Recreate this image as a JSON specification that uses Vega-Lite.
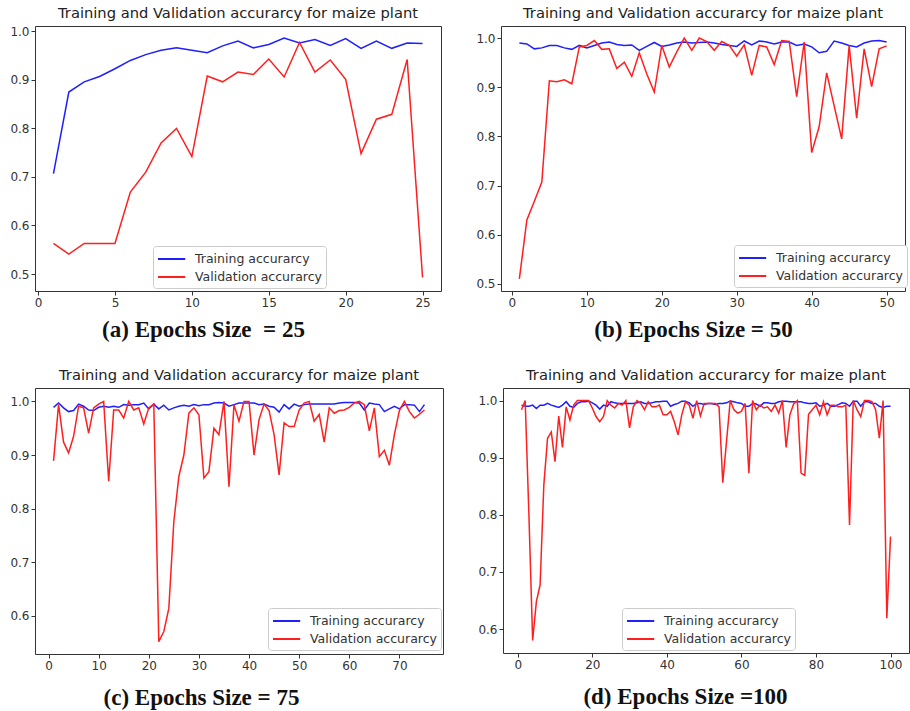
{
"$schema":"https://vega.github.io/schema/vega-lite/v6.json",
"padding":{"left":9,"top":5,"right":2,"bottom":0},
"background":"white",
"datasets":{
"a":[{"e":1,"t":0.707,"v":0.563},{"e":2,"t":0.875,"v":0.541},{"e":3,"t":0.896,"v":0.563},{"e":4,"t":0.907,"v":0.563},{"e":5,"t":0.923,"v":0.563},{"e":6,"t":0.94,"v":0.669},{"e":7,"t":0.952,"v":0.71},{"e":8,"t":0.961,"v":0.77},{"e":9,"t":0.966,"v":0.8},{"e":10,"t":0.961,"v":0.742},{"e":11,"t":0.956,"v":0.908},{"e":12,"t":0.97,"v":0.896},{"e":13,"t":0.98,"v":0.916},{"e":14,"t":0.966,"v":0.911},{"e":15,"t":0.973,"v":0.943},{"e":16,"t":0.986,"v":0.906},{"e":17,"t":0.976,"v":0.977},{"e":18,"t":0.983,"v":0.916},{"e":19,"t":0.971,"v":0.941},{"e":20,"t":0.985,"v":0.901},{"e":21,"t":0.965,"v":0.748},{"e":22,"t":0.98,"v":0.819},{"e":23,"t":0.965,"v":0.829},{"e":24,"t":0.976,"v":0.942},{"e":25,"t":0.975,"v":0.493}],
"b":[{"e":1,"t":0.99,"v":0.51},{"e":2,"t":0.988,"v":0.63},{"e":3,"t":0.978,"v":0.668},{"e":4,"t":0.98,"v":0.707},{"e":5,"t":0.985,"v":0.913},{"e":6,"t":0.985,"v":0.911},{"e":7,"t":0.98,"v":0.915},{"e":8,"t":0.977,"v":0.907},{"e":9,"t":0.985,"v":0.982},{"e":10,"t":0.98,"v":0.985},{"e":11,"t":0.985,"v":0.995},{"e":12,"t":0.99,"v":0.977},{"e":13,"t":0.992,"v":0.978},{"e":14,"t":0.987,"v":0.938},{"e":15,"t":0.985,"v":0.951},{"e":16,"t":0.986,"v":0.922},{"e":17,"t":0.975,"v":0.97},{"e":18,"t":0.983,"v":0.927},{"e":19,"t":0.991,"v":0.89},{"e":20,"t":0.983,"v":0.985},{"e":21,"t":0.986,"v":0.941},{"e":22,"t":0.99,"v":0.972},{"e":23,"t":0.992,"v":1.0},{"e":24,"t":0.99,"v":0.975},{"e":25,"t":0.991,"v":1.0},{"e":26,"t":0.992,"v":0.993},{"e":27,"t":0.99,"v":0.975},{"e":28,"t":0.987,"v":0.993},{"e":29,"t":0.985,"v":0.985},{"e":30,"t":0.983,"v":0.963},{"e":31,"t":0.994,"v":0.986},{"e":32,"t":0.986,"v":0.924},{"e":33,"t":0.994,"v":0.985},{"e":34,"t":0.992,"v":0.982},{"e":35,"t":0.988,"v":0.946},{"e":36,"t":0.992,"v":0.995},{"e":37,"t":0.992,"v":0.993},{"e":38,"t":0.985,"v":0.881},{"e":39,"t":0.988,"v":0.992},{"e":40,"t":0.982,"v":0.767},{"e":41,"t":0.97,"v":0.82},{"e":42,"t":0.973,"v":0.929},{"e":43,"t":0.994,"v":0.862},{"e":44,"t":0.99,"v":0.795},{"e":45,"t":0.985,"v":0.985},{"e":46,"t":0.982,"v":0.837},{"e":47,"t":0.99,"v":0.978},{"e":48,"t":0.994,"v":0.901},{"e":49,"t":0.995,"v":0.978},{"e":50,"t":0.992,"v":0.984}],
"c":[{"e":1,"t":0.989,"v":0.889},{"e":2,"t":0.997,"v":0.994},{"e":3,"t":0.988,"v":0.924},{"e":4,"t":0.981,"v":0.904},{"e":5,"t":0.983,"v":0.935},{"e":6,"t":0.995,"v":0.991},{"e":7,"t":0.991,"v":0.988},{"e":8,"t":0.984,"v":0.941},{"e":9,"t":0.983,"v":0.988},{"e":10,"t":0.989,"v":0.995},{"e":11,"t":0.991,"v":1.0},{"e":12,"t":0.989,"v":0.851},{"e":13,"t":0.991,"v":0.984},{"e":14,"t":0.989,"v":0.984},{"e":15,"t":0.994,"v":0.969},{"e":16,"t":0.993,"v":1.0},{"e":17,"t":0.994,"v":0.984},{"e":18,"t":0.994,"v":0.988},{"e":19,"t":0.997,"v":0.958},{"e":20,"t":0.986,"v":0.988},{"e":21,"t":0.995,"v":0.995},{"e":22,"t":0.986,"v":0.552},{"e":23,"t":0.993,"v":0.571},{"e":24,"t":0.984,"v":0.614},{"e":25,"t":0.988,"v":0.776},{"e":26,"t":0.991,"v":0.86},{"e":27,"t":0.993,"v":0.9},{"e":28,"t":0.991,"v":0.978},{"e":29,"t":0.994,"v":0.988},{"e":30,"t":0.992,"v":0.975},{"e":31,"t":0.994,"v":0.857},{"e":32,"t":0.994,"v":0.869},{"e":33,"t":0.997,"v":0.95},{"e":34,"t":0.998,"v":0.938},{"e":35,"t":0.997,"v":1.0},{"e":36,"t":0.991,"v":0.841},{"e":37,"t":0.994,"v":0.994},{"e":38,"t":0.997,"v":0.963},{"e":39,"t":0.997,"v":1.0},{"e":40,"t":0.997,"v":1.0},{"e":41,"t":0.997,"v":0.9},{"e":42,"t":0.994,"v":0.966},{"e":43,"t":0.995,"v":0.995},{"e":44,"t":0.991,"v":0.983},{"e":45,"t":0.989,"v":0.938},{"e":46,"t":0.98,"v":0.863},{"e":47,"t":0.994,"v":0.96},{"e":48,"t":0.986,"v":0.953},{"e":49,"t":0.995,"v":0.953},{"e":50,"t":0.991,"v":0.984},{"e":51,"t":0.994,"v":0.997},{"e":52,"t":0.995,"v":1.0},{"e":53,"t":0.995,"v":0.963},{"e":54,"t":0.995,"v":0.976},{"e":55,"t":0.995,"v":0.924},{"e":56,"t":0.995,"v":0.988},{"e":57,"t":0.995,"v":0.978},{"e":58,"t":0.997,"v":0.983},{"e":59,"t":0.998,"v":0.984},{"e":60,"t":0.998,"v":0.989},{"e":61,"t":0.998,"v":0.997},{"e":62,"t":0.997,"v":1.0},{"e":63,"t":0.984,"v":0.994},{"e":64,"t":0.997,"v":0.945},{"e":65,"t":0.995,"v":0.988},{"e":66,"t":0.994,"v":0.897},{"e":67,"t":0.981,"v":0.909},{"e":68,"t":0.986,"v":0.881},{"e":69,"t":0.991,"v":0.938},{"e":70,"t":0.986,"v":0.983},{"e":71,"t":0.994,"v":1.0},{"e":72,"t":0.994,"v":0.981},{"e":73,"t":0.993,"v":0.969},{"e":74,"t":0.981,"v":0.976},{"e":75,"t":0.994,"v":0.984}],
"d":[{"e":1,"t":0.992,"v":0.984},{"e":2,"t":0.99,"v":1.0},{"e":3,"t":0.99,"v":0.8},{"e":4,"t":0.992,"v":0.58},{"e":5,"t":0.986,"v":0.648},{"e":6,"t":0.992,"v":0.677},{"e":7,"t":0.992,"v":0.852},{"e":8,"t":0.995,"v":0.934},{"e":9,"t":0.992,"v":0.945},{"e":10,"t":0.99,"v":0.893},{"e":11,"t":0.988,"v":0.973},{"e":12,"t":0.992,"v":0.918},{"e":13,"t":0.998,"v":0.989},{"e":14,"t":0.99,"v":0.966},{"e":15,"t":0.988,"v":0.992},{"e":16,"t":0.995,"v":1.0},{"e":17,"t":0.998,"v":1.0},{"e":18,"t":0.998,"v":1.0},{"e":19,"t":0.999,"v":1.0},{"e":20,"t":0.996,"v":0.987},{"e":21,"t":0.992,"v":0.972},{"e":22,"t":0.985,"v":0.963},{"e":23,"t":0.992,"v":0.972},{"e":24,"t":0.99,"v":1.0},{"e":25,"t":0.998,"v":0.992},{"e":26,"t":0.996,"v":0.987},{"e":27,"t":0.995,"v":0.995},{"e":28,"t":0.995,"v":0.992},{"e":29,"t":0.995,"v":1.0},{"e":30,"t":0.995,"v":0.952},{"e":31,"t":0.995,"v":0.989},{"e":32,"t":0.996,"v":1.0},{"e":33,"t":0.998,"v":0.995},{"e":34,"t":0.995,"v":0.984},{"e":35,"t":0.995,"v":0.998},{"e":36,"t":0.996,"v":0.989},{"e":37,"t":0.998,"v":0.989},{"e":38,"t":0.998,"v":0.992},{"e":39,"t":0.999,"v":0.975},{"e":40,"t":0.999,"v":0.975},{"e":41,"t":0.99,"v":0.981},{"e":42,"t":0.993,"v":0.963},{"e":43,"t":0.995,"v":0.94},{"e":44,"t":0.999,"v":0.975},{"e":45,"t":0.999,"v":0.998},{"e":46,"t":0.996,"v":0.992},{"e":47,"t":0.99,"v":0.969},{"e":48,"t":0.995,"v":1.0},{"e":49,"t":0.995,"v":0.973},{"e":50,"t":0.993,"v":0.995},{"e":51,"t":0.995,"v":0.995},{"e":52,"t":0.995,"v":0.995},{"e":53,"t":0.993,"v":0.995},{"e":54,"t":0.995,"v":0.989},{"e":55,"t":0.995,"v":0.856},{"e":56,"t":0.996,"v":0.928},{"e":57,"t":0.999,"v":1.0},{"e":58,"t":0.998,"v":0.984},{"e":59,"t":0.996,"v":0.978},{"e":60,"t":0.995,"v":0.981},{"e":61,"t":0.99,"v":0.995},{"e":62,"t":0.99,"v":0.873},{"e":63,"t":0.995,"v":1.0},{"e":64,"t":0.994,"v":0.984},{"e":65,"t":0.99,"v":0.992},{"e":66,"t":0.996,"v":0.987},{"e":67,"t":0.996,"v":0.989},{"e":68,"t":0.995,"v":0.981},{"e":69,"t":0.995,"v":0.992},{"e":70,"t":0.998,"v":0.978},{"e":71,"t":0.999,"v":1.0},{"e":72,"t":0.999,"v":0.918},{"e":73,"t":0.998,"v":0.975},{"e":74,"t":0.998,"v":0.994},{"e":75,"t":0.998,"v":1.0},{"e":76,"t":0.998,"v":0.873},{"e":77,"t":0.996,"v":0.869},{"e":78,"t":0.995,"v":0.976},{"e":79,"t":0.995,"v":0.984},{"e":80,"t":0.996,"v":0.992},{"e":81,"t":0.99,"v":0.975},{"e":82,"t":0.992,"v":0.998},{"e":83,"t":0.995,"v":0.975},{"e":84,"t":0.99,"v":0.992},{"e":85,"t":0.99,"v":0.992},{"e":86,"t":0.993,"v":0.989},{"e":87,"t":0.996,"v":0.989},{"e":88,"t":0.995,"v":0.992},{"e":89,"t":0.99,"v":0.782},{"e":90,"t":0.999,"v":1.0},{"e":91,"t":0.999,"v":0.984},{"e":92,"t":0.99,"v":0.972},{"e":93,"t":0.998,"v":1.0},{"e":94,"t":0.998,"v":1.0},{"e":95,"t":0.995,"v":0.998},{"e":96,"t":0.995,"v":0.984},{"e":97,"t":0.99,"v":0.934},{"e":98,"t":0.988,"v":1.0},{"e":99,"t":0.99,"v":0.619},{"e":100,"t":0.99,"v":0.762}]
},
"vconcat":[
{"hconcat":[
{"data":{"name":"a"},"transform":[{"fold":["t","v"],"as":["k","acc"]}],
"title":"Training and Validation accurarcy for maize plant","width":406,"height":265,
"mark":{"type":"line","strokeWidth":1.5},
"encoding":{
"x":{"field":"e","type":"quantitative","scale":{"domain":[-0.2,26.2],"nice":false,"zero":false},"axis":{"values":[0,5,10,15,20,25],"title":"(a) Epochs Size\u00a0 = 25","titleX":168,"titlePadding":10}},
"y":{"field":"acc","type":"quantitative","scale":{"domain":[0.465,1.011],"nice":false,"zero":false},"axis":{"values":[0.5,0.6,0.7,0.8,0.9,1.0],"format":".1f","title":null}},
"color":{"field":"k","type":"nominal","scale":{"domain":["t","v"],"range":["#1f1fff","#ff1f1f"]},"legend":{"title":null,"orient":"none","legendX":118,"legendY":220,"labelExpr":"datum.label == 't' ? 'Training accurarcy' : 'Validation accurarcy'"}}}},
{"data":{"name":"b"},"transform":[{"fold":["t","v"],"as":["k","acc"]}],
"title":"Training and Validation accurarcy for maize plant","width":404,"height":265,
"mark":{"type":"line","strokeWidth":1.5},
"encoding":{
"x":{"field":"e","type":"quantitative","scale":{"domain":[-1.45,52.45],"nice":false,"zero":false},"axis":{"values":[0,10,20,30,40,50],"title":"(b) Epochs Size = 50","titleX":192,"titlePadding":10}},
"y":{"field":"acc","type":"quantitative","scale":{"domain":[0.4855,1.0245],"nice":false,"zero":false},"axis":{"values":[0.5,0.6,0.7,0.8,0.9,1.0],"format":".1f","title":null}},
"color":{"field":"k","type":"nominal","scale":{"domain":["t","v"],"range":["#1f1fff","#ff1f1f"]},"legend":{"title":null,"orient":"none","legendX":233,"legendY":219,"labelExpr":"datum.label == 't' ? 'Training accurarcy' : 'Validation accurarcy'"}}}}
],"spacing":33,"resolve":{"scale":{"color":"independent"},"legend":{"color":"independent"}}},
{"hconcat":[
{"data":{"name":"c"},"transform":[{"fold":["t","v"],"as":["k","acc"]}],
"title":"Training and Validation accurarcy for maize plant","width":408,"height":266,
"mark":{"type":"line","strokeWidth":1.5},
"encoding":{
"x":{"field":"e","type":"quantitative","scale":{"domain":[-2.7,78.7],"nice":false,"zero":false},"axis":{"values":[0,10,20,30,40,50,60,70],"title":"(c) Epochs Size = 75","titleX":166,"titlePadding":15}},
"y":{"field":"acc","type":"quantitative","scale":{"domain":[0.529,1.025],"nice":false,"zero":false},"axis":{"values":[0.6,0.7,0.8,0.9,1.0],"format":".1f","title":null}},
"color":{"field":"k","type":"nominal","scale":{"domain":["t","v"],"range":["#1f1fff","#ff1f1f"]},"legend":{"title":null,"orient":"none","legendX":233,"legendY":220,"labelExpr":"datum.label == 't' ? 'Training accurarcy' : 'Validation accurarcy'"}}}},
{"data":{"name":"d"},"transform":[{"fold":["t","v"],"as":["k","acc"]}],
"title":"Training and Validation accurarcy for maize plant","width":406,"height":265,
"mark":{"type":"line","strokeWidth":1.5},
"encoding":{
"x":{"field":"e","type":"quantitative","scale":{"domain":[-3.95,104.95],"nice":false,"zero":false},"axis":{"values":[0,20,40,60,80,100],"title":"(d) Epochs Size =100","titleX":182,"titlePadding":15}},
"y":{"field":"acc","type":"quantitative","scale":{"domain":[0.558,1.022],"nice":false,"zero":false},"axis":{"values":[0.6,0.7,0.8,0.9,1.0],"format":".1f","title":null}},
"color":{"field":"k","type":"nominal","scale":{"domain":["t","v"],"range":["#1f1fff","#ff1f1f"]},"legend":{"title":null,"orient":"none","legendX":119,"legendY":220,"labelExpr":"datum.label == 't' ? 'Training accurarcy' : 'Validation accurarcy'"}}}}
],"spacing":33,"resolve":{"scale":{"color":"independent"},"legend":{"color":"independent"}}}
],
"spacing":25,
"resolve":{"scale":{"color":"independent"},"legend":{"color":"independent"}},
"config":{
"font":"DejaVu Sans",
"view":{"stroke":"#333","strokeWidth":1},
"title":{"fontSize":14.7,"fontWeight":"normal","color":"#222","offset":5,"font":"DejaVu Sans"},
"axis":{"domain":false,"grid":false,"tickColor":"#333","tickSize":4,"labelFontSize":12,"labelColor":"#333","labelFont":"DejaVu Sans","titleFont":"Liberation Serif","titleFontSize":23,"titleFontWeight":"bold","titleColor":"#111"},
"axisY":{"labelPadding":2},
"legend":{"symbolType":"M-1,0H2.4","symbolStrokeWidth":2,"symbolSize":256,"labelOffset":20,"labelFontSize":12.5,"labelColor":"#333","strokeColor":"#ccc","fillColor":"white","padding":4,"cornerRadius":3,"rowPadding":2}
}
}
